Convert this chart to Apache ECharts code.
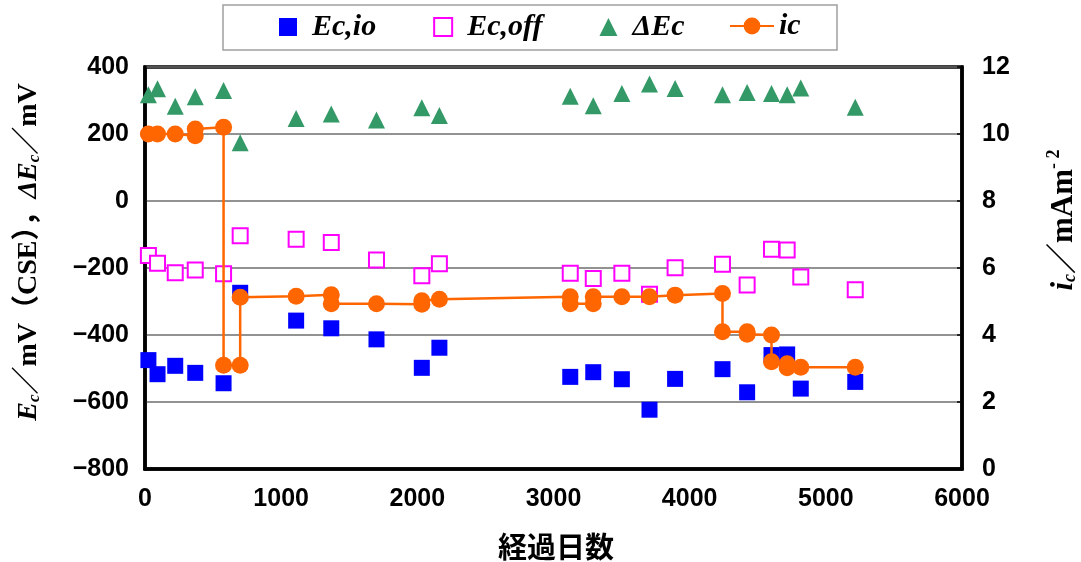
<!DOCTYPE html>
<html>
<head>
<meta charset="utf-8">
<script src="https://cdn.jsdelivr.net/npm/echarts@6/dist/echarts.min.js"></script>
<style>
  html, body { margin: 0; padding: 0; background: #fff; }
  #chart { width: 1081px; height: 562px; }
</style>
</head>
<body>
<div id="chart"></div>
<script>
// Elapsed days at each survey
const days = [25, 92, 222, 369, 577, 699, 1110, 1368, 1700, 2033, 2162,
  3123, 3292, 3502, 3705, 3893, 4241, 4422, 4601, 4716, 4816, 5216];
// Instant-off / on potentials and depolarisation (mV)
const ecIo = [-475, -517, -492, -513, -544, -274, -357, -380, -413, -498, -438,
  -525, -511, -532, -623, -531, -502, -571, -460, -458, -560, -540];
const ecOff = [-163, -186, -214, -206, -217, -104, -114, -124, -176, -223, -187,
  -216, -231, -216, -278, -199, -189, -251, -144, -146, -227, -265];
const deltaEc = [317, 335, 283, 311, 330, 174, 246, 260, 242, 278, 255,
  313, 284, 321, 349, 336, 317, 324, 321, 317, 337, 280];
// Protection current density (mA/m2), stepped where the setting changed
const icDays = [25, 92, 222, 369, 369, 577, 577, 699, 699, 1110, 1368, 1368, 1700,
  2033, 2033, 2162, 3123, 3123, 3292, 3292, 3502, 3705, 3893, 4241, 4241, 4422,
  4422, 4601, 4601, 4716, 4716, 4816, 5216];
const icValues = [10.0, 10.0, 10.0, 9.95, 10.15, 10.2, 3.1, 3.1, 5.13, 5.16, 5.2, 4.93, 4.93,
  4.92, 5.02, 5.07, 5.14, 4.93, 4.93, 5.14, 5.14, 5.14, 5.19, 5.24, 4.1, 4.1,
  4.02, 4.0, 3.2, 3.14, 3.02, 3.04, 3.04];
// Axis ticks
const xTicks = { min: 0, max: 6000, step: 1000 };
const yLeftTicks = { min: -800, max: 400, step: 200 };
const yRightTicks = { min: 0, max: 12, step: 2 };
const seriesNames = ['Ec,io', 'Ec,off', 'ΔEc', 'ic'];

const pairs = (xs, ys) => xs.map((x, i) => [x, ys[i]]);
const minus = v => (v < 0 ? '\u2212' + Math.abs(v) : String(v));

const tickFont = {
  fontFamily: "'Liberation Sans', Arial, sans-serif",
  fontWeight: 'bold', fontSize: 25, color: '#000'
};
const serif = "'Liberation Serif', 'Noto Sans CJK JP', serif";
const legendText = {
  fontFamily: serif, fontStyle: 'italic', fontWeight: 'bold',
  fontSize: 30, lineHeight: 30, color: '#000', padding: [0, 0, 0, 10]
};

const chart = echarts.init(document.getElementById('chart'), null, { renderer: 'canvas' });
chart.setOption({
  animation: false,
  backgroundColor: '#fff',
  grid: { left: 145, right: 119, top: 67, bottom: 93, show: true,
          borderColor: '#000', borderWidth: 3.5 },
  legend: [
    {
      left: 279, top: 12, padding: 0,
      itemGap: 57, itemWidth: 18, itemHeight: 18,
      textStyle: legendText,
      data: [
        { name: seriesNames[0], icon: 'rect' },
        { name: seriesNames[1], icon: 'emptyRect' },
        { name: seriesNames[2], icon: 'triangle' }
      ]
    },
    {
      left: 729, top: 11, padding: 0,
      itemWidth: 44, itemHeight: 21,
      textStyle: Object.assign({}, legendText, { padding: 0 }),
      data: [{ name: seriesNames[3] }]
    }
  ],
  xAxis: {
    type: 'value', min: xTicks.min, max: xTicks.max, interval: xTicks.step,
    axisLine: { show: true, onZero: false, lineStyle: { color: '#000', width: 3.5 } },
    axisTick: { show: false },
    splitLine: { show: false },
    axisLabel: Object.assign({ margin: 18, formatter: v => String(v) }, tickFont)
  },
  yAxis: [
    {
      type: 'value', min: yLeftTicks.min, max: yLeftTicks.max, interval: yLeftTicks.step,
      axisLine: { show: true, lineStyle: { color: '#000', width: 3.5 } },
      axisTick: { show: false },
      splitLine: { show: true, lineStyle: { color: '#6e6e6e', width: 1.5 } },
      axisLabel: Object.assign({ margin: 16, formatter: minus }, tickFont)
    },
    {
      type: 'value', min: yRightTicks.min, max: yRightTicks.max, interval: yRightTicks.step,
      position: 'right',
      axisLine: { show: true, lineStyle: { color: '#000', width: 3.5 } },
      axisTick: { show: true, inside: true, length: 5, lineStyle: { color: '#000', width: 1.5 } },
      splitLine: { show: false },
      axisLabel: Object.assign({ margin: 20 }, tickFont)
    }
  ],
  series: [
    {
      name: seriesNames[0], type: 'scatter', yAxisIndex: 0, clip: false,
      symbol: 'rect', symbolSize: 16,
      itemStyle: { color: '#0000ff', opacity: 1 },
      data: pairs(days, ecIo)
    },
    {
      name: seriesNames[1], type: 'scatter', yAxisIndex: 0, clip: false,
      symbol: 'emptyRect', symbolSize: 15,
      itemStyle: { color: '#ff00ff', borderWidth: 2, opacity: 1 },
      data: pairs(days, ecOff)
    },
    {
      name: seriesNames[2], type: 'scatter', yAxisIndex: 0, clip: false,
      symbol: 'triangle', symbolSize: 17,
      itemStyle: { color: '#339966', opacity: 1 },
      data: pairs(days, deltaEc)
    },
    {
      name: seriesNames[3], type: 'line', yAxisIndex: 1, clip: false,
      symbol: 'circle', symbolSize: 17, showAllSymbol: true,
      lineStyle: { color: '#ff6600', width: 2.5 },
      itemStyle: { color: '#ff6600', opacity: 1 },
      data: pairs(icDays, icValues)
    }
  ],
  graphic: [
    {
      // frame round the legend
      type: 'rect', z: 0, silent: true,
      shape: { x: 223, y: 5, width: 614, height: 45 },
      style: { fill: '#fff', stroke: '#a0a0a0', lineWidth: 1.5 }
    },
    {
      type: 'text', x: 27, y: 252, rotation: Math.PI / 2,
      style: {
        text: '{ei|E}{sub|c}{n|／mV（CSE），}{ei|ΔE}{sub|c}{n|／mV}',
        align: 'center', verticalAlign: 'middle',
        rich: {
          ei: { fontFamily: serif, fontStyle: 'italic', fontWeight: 'bold', fontSize: 28, lineHeight: 32, verticalAlign: 'bottom' },
          sub: { fontFamily: serif, fontStyle: 'italic', fontWeight: 'bold', fontSize: 17, lineHeight: 17, verticalAlign: 'bottom' },
          n: { fontFamily: serif, fontWeight: 'bold', fontSize: 28, lineHeight: 32, verticalAlign: 'bottom' }
        }
      }
    },
    {
      type: 'text', x: 1062, y: 220, rotation: Math.PI / 2,
      style: {
        text: '{ei|i}{sub|c}{n|／mAm}{sup|- 2}',
        align: 'center', verticalAlign: 'middle',
        rich: {
          ei: { fontFamily: serif, fontStyle: 'italic', fontWeight: 'bold', fontSize: 31, lineHeight: 34, verticalAlign: 'bottom' },
          sub: { fontFamily: serif, fontStyle: 'italic', fontWeight: 'bold', fontSize: 18, lineHeight: 18, verticalAlign: 'bottom' },
          n: { fontFamily: serif, fontWeight: 'bold', fontSize: 31, lineHeight: 34, verticalAlign: 'bottom' },
          sup: { fontFamily: serif, fontWeight: 'bold', fontSize: 18, lineHeight: 18, verticalAlign: 'top' }
        }
      }
    },
    {
      type: 'text', x: 556, y: 547,
      style: {
        text: '経過日数', align: 'center', verticalAlign: 'middle',
        fontFamily: "'Noto Sans CJK JP', sans-serif", fontWeight: 'bold', fontSize: 29, fill: '#000'
      }
    }
  ]
});
</script>
</body>
</html>
